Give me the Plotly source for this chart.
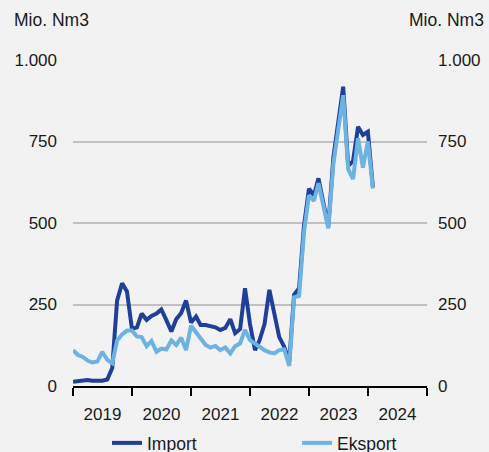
import pandas as pd
import plotly.graph_objects as go

months = pd.date_range("2019-01-01", periods=62, freq="MS")

import_vals = [
    13, 15, 18, 18, 16, 15, 16, 20, 55, 262, 315, 290,
    175, 180, 222, 203, 215, 222, 235, 202, 167, 205, 224, 262,
    195, 213, 187, 187, 185, 180, 172, 178, 205, 162, 175, 300,
    190, 110, 140, 190, 295, 215, 150, 120, 75, 280, 300, 490,
    605, 585, 637, 560, 490, 700, 800, 918, 675, 690, 795, 770,
    780, 610,
]
eksport_vals = [
    110, 95, 90, 78, 72, 75, 105, 80, 70, 140, 158, 170,
    170, 152, 150, 122, 138, 105, 115, 112, 140, 126, 148, 110,
    185, 165, 145, 126, 118, 123, 110, 118, 100, 122, 131, 172,
    141, 130, 120, 110, 103, 100, 110, 112, 62, 272, 276, 470,
    585, 568, 622, 550, 484, 680, 790, 892, 665, 635, 760, 670,
    750, 606,
]
y_ticks = [0, 250, 500, 750, 1000]

FONT = "Liberation Sans, Arial, sans-serif"
TXT = "#1a1a1a"
PW, PH, L, T = 354, 326, 73, 60

fig = go.Figure()
fig.add_trace(go.Scatter(x=months, y=import_vals, name="Import", mode="lines",
                         line=dict(color="#1f3f99", width=4), legend="legend"))
fig.add_trace(go.Scatter(x=months, y=eksport_vals, name="Eksport", mode="lines",
                         line=dict(color="#6cb2e2", width=4), legend="legend2"))
fig.add_trace(go.Scatter(x=[months[0]], y=[0], yaxis="y2", showlegend=False,
                         mode="lines", line=dict(width=0), hoverinfo="skip"))

leg_common = dict(orientation="h", xanchor="left", y=-(443 - 386) / PH, yanchor="middle",
                  font=dict(size=17.5, color=TXT), bgcolor="rgba(0,0,0,0)")

fig.update_layout(
    width=489, height=452,
    margin=dict(l=L, r=489 - L - PW, t=T, b=452 - T - PH, autoexpand=False),
    paper_bgcolor="#f2f2f2", plot_bgcolor="#f2f2f2",
    font=dict(family=FONT, size=17, color=TXT),
    separators=",.",
    showlegend=True,
    legend=dict(x=(107 - L) / PW, **leg_common),
    legend2=dict(x=(297 - L) / PW, **leg_common),
    xaxis=dict(
        type="date", range=["2019-01-01", "2025-01-01"],
        tickmode="linear", tick0="2019-01-01", dtick="M12", tickformat="%Y",
        ticklabelmode="period", ticks="outside", ticklen=8, tickwidth=2,
        tickcolor="black", showline=True, linecolor="black", linewidth=2,
        showgrid=False, zeroline=False, ticklabelstandoff=4, automargin=False,
        tickfont=dict(size=17),
    ),
    yaxis=dict(
        range=[0, 1000], tickvals=y_ticks, tickformat=",.0f", automargin=False,
        showgrid=True, gridcolor="#c0c0c0", gridwidth=1.5, zeroline=False,
        showline=False, ticks="", ticklabelstandoff=15, tickfont=dict(size=17),
    ),
    yaxis2=dict(
        range=[0, 1000], tickvals=y_ticks, tickformat=",.0f", overlaying="y",
        side="right", showgrid=False, zeroline=False, showline=False, ticks="",
        ticklabelstandoff=10, tickfont=dict(size=17), automargin=False,
    ),
    annotations=[
        dict(text="Mio. Nm3", xref="paper", yref="paper", x=(12 - L) / PW, y=(386 - 20) / PH,
             xanchor="left", yanchor="middle", showarrow=False, font=dict(size=17.5)),
        dict(text="Mio. Nm3", xref="paper", yref="paper", x=(486 - L) / PW, y=(386 - 20) / PH,
             xanchor="right", yanchor="middle", showarrow=False, font=dict(size=17.5)),
    ],
)

fig.write_html("out.html", config={"displayModeBar": False},
               post_script="document.body.style.margin='0px';document.body.style.background='#f2f2f2';")
